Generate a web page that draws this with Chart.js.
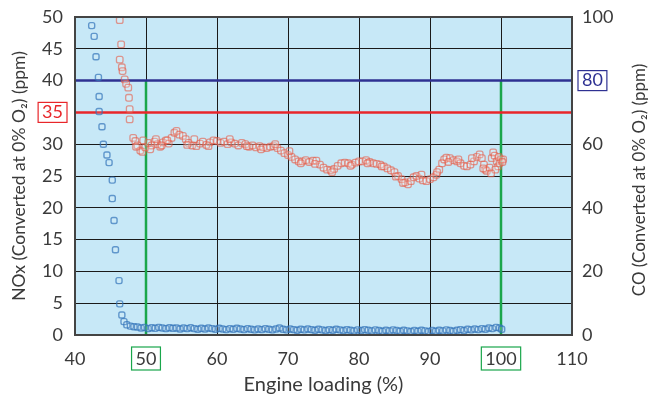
<!DOCTYPE html>
<html>
<head>
<meta charset="utf-8">
<script src="https://cdn.jsdelivr.net/npm/chart.js@4"></script>
<style>
  html, body { margin: 0; padding: 0; background: #fff; }
  #wrap { width: 657px; height: 399px; }
</style>
</head>
<body>
<div id="wrap"><canvas id="c" width="657" height="399"></canvas></div>
<script>
'use strict';

// NOx (left axis, ppm)
const noxLoad = [46.3,46.5,46.3,46.6,46.7,47.0,47.2,47.5,47.6,47.7,47.7,48.2,48.5,48.8,49.2,49.5,49.9,50.3,50.8,51.2,
  51.6,52.0,52.4,52.8,53.2,53.6,54.0,54.3,54.7,55.2,55.6,56.0,56.5,57.1,57.6,58.0,58.5,59.0,59.5,60.0,
  60.5,61.0,61.5,62.0,62.5,63.0,63.5,64.0,64.5,65.0,65.5,66.0,66.5,67.0,67.5,68.0,68.5,69.0,69.5,70.0,
  70.5,71.0,71.5,72.0,72.5,73.0,73.5,74.0,74.5,75.0,75.5,76.0,76.5,77.0,77.5,78.0,78.5,79.0,79.5,80.0,
  80.5,81.0,81.5,82.0,82.5,83.0,83.5,84.0,84.5,85.0,85.5,86.0,86.5,86.9,87.3,87.7,88.1,88.5,89.0,89.5,
  90.0,90.5,90.9,91.3,91.7,92.0,92.3,92.8,93.3,93.8,94.3,94.8,95.2,95.7,96.2,96.6,97.0,97.3,97.6,97.8,
  98.0,98.4,98.7,98.9,99.1,99.4,99.6,99.8,100.0,100.3,99.7,99.2,
  48.6,49.6,50.6,51.4,52.2,53.0,55.8,56.8,58.8,61.8,64.2,66.2,68.2,70.2,71.8,73.8,76.2,78.8,81.2,83.2,
  85.2,86.2,88.8,91.0,92.6,94.0,95.9,97.5,98.6,100.2];
const noxPpm = [49.5,45.7,43.3,42.1,41.5,40.2,39.5,38.9,37.3,35.5,33.9,31.0,30.5,29.8,29.0,28.8,29.5,30.2,29.8,30.4,
  30.0,29.6,30.3,30.6,30.1,31.0,31.8,32.1,31.5,31.3,30.8,30.2,29.8,29.7,30.1,30.4,29.9,30.3,30.6,30.5,
  30.2,30.4,30.0,30.3,30.1,29.8,30.2,30.0,29.6,29.8,29.5,29.7,29.5,29.4,29.6,29.7,29.4,29.0,28.6,28.3,
  28.0,27.6,27.3,27.3,27.5,27.2,27.4,27.4,26.8,26.3,26.0,25.9,26.1,26.6,27.0,27.1,27.0,26.8,27.1,27.3,
  27.3,27.5,27.2,27.0,26.9,26.8,26.5,26.2,25.9,25.6,25.0,24.5,24.0,23.7,24.2,24.8,25.0,24.6,24.3,24.2,
  24.5,24.8,25.2,26.0,27.0,27.6,27.9,27.8,27.5,27.3,27.0,26.6,26.5,26.8,27.3,28.0,28.4,27.8,26.8,26.0,
  25.8,26.3,27.8,28.7,28.2,27.3,26.5,27.0,27.6,27.6,28.0,26.0,
  29.6,30.6,29.2,30.8,29.8,30.6,29.9,30.8,29.7,30.8,29.7,29.2,30.0,28.9,27.0,26.9,25.6,26.6,27.0,26.5,
  24.9,23.9,25.2,25.6,27.2,27.6,27.8,26.2,25.4,27.2];

// CO (right axis, ppm)
const coLoad = [42.35,42.7,42.96,43.3,43.4,43.4,43.8,44.0,44.5,44.8,45.25,45.25,45.5,45.7,46.2,46.3,46.6,46.9,47.3,47.8,
  48.3,48.8,49.3,49.8,50.3,50.8,51.3,51.8,52.3,52.8,53.3,53.8,54.3,54.8,55.3,55.8,56.3,56.8,57.3,57.8,
  58.3,58.8,59.3,59.8,60.3,60.8,61.3,61.8,62.3,62.8,63.3,63.8,64.3,64.8,65.3,65.8,66.3,66.8,67.3,67.8,
  68.3,68.8,69.3,69.8,70.3,70.8,71.3,71.8,72.3,72.8,73.3,73.8,74.3,74.8,75.3,75.8,76.3,76.8,77.3,77.8,
  78.3,78.8,79.3,79.8,80.3,80.8,81.3,81.8,82.3,82.8,83.3,83.8,84.3,84.8,85.3,85.8,86.3,86.8,87.3,87.8,
  88.3,88.8,89.3,89.8,90.3,90.8,91.3,91.8,92.3,92.8,93.3,93.8,94.3,94.8,95.3,95.8,96.3,96.8,97.3,97.8,
  98.3,98.8,99.3,99.8,100.1];
const coPpm = [97.3,93.9,87.5,81.0,75.0,70.3,65.5,60.0,56.6,54.2,48.7,42.9,36.0,26.8,17.1,9.8,6.3,4.2,3.2,2.8,
  2.6,2.5,2.2,2.4,2.0,2.3,2.1,2.4,2.2,2.0,2.3,2.1,2.2,1.9,2.2,2.0,2.3,2.0,1.8,2.1,
  1.9,2.2,2.0,1.8,2.1,1.9,1.7,2.0,1.8,2.1,1.9,1.7,2.0,1.8,1.6,1.9,1.7,2.0,1.8,1.6,
  1.9,2.2,1.8,1.6,1.9,1.7,1.5,1.8,1.6,1.9,1.7,1.5,1.8,1.6,1.4,1.7,1.5,1.8,1.6,1.4,
  1.7,1.5,1.3,1.6,1.4,1.7,1.5,1.3,1.6,1.4,1.2,1.5,1.3,1.6,1.4,1.2,1.5,1.3,1.1,1.4,
  1.2,1.5,1.3,1.1,1.4,1.2,1.5,1.3,1.6,1.4,1.2,1.5,1.7,1.4,1.8,1.6,1.9,1.7,2.0,1.8,
  2.2,2.0,2.4,2.2,1.8];

const xTicks = [40,50,60,70,80,90,100,110];
const noxLimit = 35;     // red line, left axis
const coLimit = 80;      // blue line, right axis
const loadMarks = [50,100];   // green lines
const coTitle = 'CO (Converted at 0% O\u2082) (ppm)';

const TXT = '#3a3a3a';
const RED = '#e8262a', BLUE = '#2e3192', GREEN = '#1aa64b';
const FONT = 'Lato, "DejaVu Sans", sans-serif';

const pts = (xs, ys) => xs.map((x, i) => ({ x, y: ys[i] }));

// keep the plot frame where the reference has it
const noPad = s => { s.paddingTop = 0; s.paddingBottom = 0; s.paddingLeft = 0; s.paddingRight = 0; };

const refLines = {
  id: 'refLines',
  beforeDraw(chart) {
    const { ctx, chartArea: a } = chart;
    ctx.save();
    ctx.fillStyle = '#c7e8f7';
    ctx.fillRect(a.left, a.top, a.right - a.left, a.bottom - a.top);
    ctx.restore();
  },
  beforeDatasetsDraw(chart) {
    const { ctx, chartArea: a, scales } = chart;
    const yR = scales.yR.getPixelForValue(coLimit);
    const yL = scales.y.getPixelForValue(noxLimit);
    ctx.save();
    ctx.lineWidth = 2.5;
    ctx.strokeStyle = GREEN;
    loadMarks.forEach(v => {
      const x = scales.x.getPixelForValue(v);
      ctx.beginPath(); ctx.moveTo(x, yR); ctx.lineTo(x, a.bottom); ctx.stroke();
    });
    ctx.strokeStyle = RED;
    ctx.beginPath(); ctx.moveTo(a.left, yL); ctx.lineTo(a.right, yL); ctx.stroke();
    ctx.strokeStyle = BLUE;
    ctx.beginPath(); ctx.moveTo(a.left, yR); ctx.lineTo(a.right, yR); ctx.stroke();
    ctx.restore();
  },
  afterDraw(chart) {
    const { ctx, chartArea: a, scales } = chart;
    ctx.save();
    ctx.strokeStyle = '#444';
    ctx.lineWidth = 2;
    ctx.strokeRect(a.left, a.top, a.right - a.left, a.bottom - a.top);
    ctx.font = '18px ' + FONT;
    ctx.lineWidth = 1.2;
    // boxed tick labels
    let w = ctx.measureText(String(noxLimit)).width;
    let y = scales.y.getPixelForValue(noxLimit);
    ctx.strokeStyle = RED;
    ctx.strokeRect(a.left - 12 - w - 4, y - 10, w + 8, 20);
    w = ctx.measureText(String(coLimit)).width;
    y = scales.yR.getPixelForValue(coLimit);
    ctx.strokeStyle = BLUE;
    ctx.strokeRect(a.right + 10 - 4, y - 10, w + 8, 20);
    ctx.strokeStyle = GREEN;
    loadMarks.forEach(v => {
      const tw = ctx.measureText(String(v)).width;
      const x = scales.x.getPixelForValue(v);
      ctx.strokeRect(x - tw / 2 - 4, a.bottom + 12, tw + 8, 23);
    });
    // right title reads bottom-to-top like the left one
    ctx.translate(640, (a.top + a.bottom) / 2 + 4);
    ctx.rotate(-Math.PI / 2);
    ctx.font = '17px ' + FONT;
    ctx.fillStyle = TXT;
    ctx.textAlign = 'center';
    ctx.textBaseline = 'middle';
    ctx.fillText(coTitle, 0, 0);
    ctx.restore();
  }
};

new Chart(document.getElementById('c'), {
  type: 'scatter',
  data: {
    datasets: [
      {
        label: 'NOx', data: pts(noxLoad, noxPpm), yAxisID: 'y',
        pointStyle: 'rectRounded', pointRadius: 3.8, borderWidth: 1.3,
        borderColor: 'rgba(228,90,70,0.6)', backgroundColor: 'rgba(255,255,255,0.2)'
      },
      {
        label: 'CO', data: pts(coLoad, coPpm), yAxisID: 'yR',
        pointStyle: 'rectRounded', pointRadius: 3.5, borderWidth: 1.4,
        borderColor: 'rgba(50,115,185,0.7)', backgroundColor: 'rgba(255,255,255,0.1)'
      }
    ]
  },
  options: {
    responsive: false,
    animation: false,
    layout: { padding: { top: 17, left: 0, right: 0, bottom: 0 } },
    plugins: { legend: { display: false }, tooltip: { enabled: false } },
    scales: {
      x: {
        type: 'linear', min: 40, max: 110,
        afterBuildTicks: s => { s.ticks = xTicks.map(v => ({ value: v })); },
        afterFit: s => { s.height = 64; noPad(s); },
        grid: { color: '#1a1a1a', lineWidth: 1, drawTicks: false },
        border: { display: false },
        ticks: { padding: 13, color: TXT, font: { family: FONT, size: 18 } },
        title: { display: true, text: 'Engine loading (%)', color: TXT,
                 font: { family: FONT, size: 20 }, padding: { top: 0, bottom: 2 } }
      },
      y: {
        position: 'left', min: 0, max: 50,
        ticks: { stepSize: 5, padding: 12, font: { family: FONT, size: 18 },
                 color: c => c.tick && c.tick.value === noxLimit ? RED : TXT },
        afterFit: s => { s.width = 75; noPad(s); },
        grid: { color: '#1a1a1a', lineWidth: 1, drawTicks: false },
        border: { display: false },
        title: { display: true, text: 'NOx (Converted at 0% O\u2082) (ppm)', color: TXT,
                 font: { family: FONT, size: 17.5 }, padding: { top: 9, bottom: 0 } }
      },
      yR: {
        position: 'right', min: 0, max: 100,
        ticks: { stepSize: 20, padding: 10, font: { family: FONT, size: 18 },
                 color: c => c.tick && c.tick.value === coLimit ? BLUE : TXT },
        afterFit: s => { s.width = 85; noPad(s); },
        grid: { display: false, drawTicks: false },
        border: { display: false }
      }
    }
  },
  plugins: [refLines]
});
</script>
</body>
</html>
